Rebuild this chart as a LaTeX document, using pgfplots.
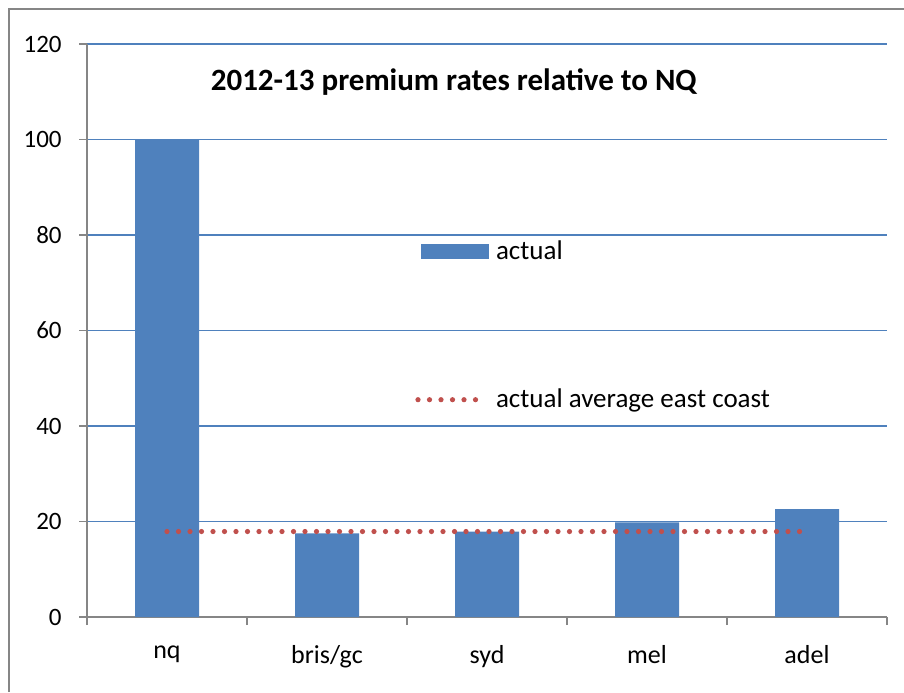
\documentclass[border=0pt]{standalone}
\usepackage{fontspec}
\setmainfont{Carlito}
\usepackage{pgfplots}
\pgfplotsset{compat=1.18}
\definecolor{barblue}{HTML}{4F81BD}
\definecolor{gridblue}{HTML}{4F81BD}
\definecolor{dotred}{HTML}{C0504D}
\definecolor{axgray}{HTML}{868686}
\begin{document}
\begin{tikzpicture}
\useasboundingbox (0,0) rectangle (452pt,346pt);
\draw[axgray, line width=0.8pt] (4.5pt,0pt) -- (4.5pt,341.5pt) -- (452pt,341.5pt);
\begin{axis}[
  at={(43.5pt,37.5pt)}, anchor=south west,
  scale only axis, width=400pt, height=286.5pt,
  xmin=-0.5, xmax=4.5, ymin=0, ymax=120,
  ytick={0,20,...,120},
  xtick={0,1,2,3,4},
  xticklabels={nq,bris/gc,syd,mel,adel},
  minor xtick={-0.5,0.5,1.5,2.5,3.5,4.5},
  major x tick style={draw=none},
  minor tick length=4pt,
  major tick length=4pt,
  tick align=outside,
  axis lines*=left,
  axis line style={axgray, line width=0.8pt},
  every tick/.style={axgray, line width=0.8pt},
  ymajorgrids,
  major grid style={gridblue, line width=0.7pt},
  /pgf/number format/assume math mode=true,
  yticklabel style={font=\fontsize{12.5}{14}\selectfont, inner sep=0pt, xshift=-8.5pt},
  xticklabel style={font=\fontsize{13}{15}\selectfont, inner sep=0pt, yshift=-10pt},
  title={\textbf{2012-13 premium rates relative to NQ}},
  title style={font=\fontsize{15.5}{18}\selectfont, at={(axis description cs:0.459,0.934)}, anchor=center, yshift=-6pt},
  legend style={draw=none, fill=none, at={(axis description cs:0.41,0.662)}, anchor=north west,
    font=\fontsize{13.5}{15}\selectfont, row sep=60pt, inner sep=0pt,
    nodes={inner sep=1.5pt}},
  legend cell align=left,
]
\addplot[ybar, bar width=32pt, fill=barblue, draw=none,
  legend image code/.code={\fill[barblue] (0pt,-3.75pt) rectangle (34pt,3.75pt);}]
  coordinates {(0,100) (1,17.5) (2,17.9) (3,19.8) (4,22.6)};
\addlegendentry{\hspace{2pt}actual}
\addplot[dotred, line width=2.6pt, line cap=round, dash pattern=on 0pt off 5.75pt,
  legend image code/.code={\draw[dotred, line width=2.6pt, line cap=round, dash pattern=on 0pt off 5.75pt] (-1.5pt,0pt) -- (30pt,0pt);}]
  coordinates {(0,17.9) (1,17.9) (2,17.9) (3,17.9) (4,17.9)};
\addlegendentry{\hspace{2pt}actual average east coast}
\end{axis}
\end{tikzpicture}
\end{document}
